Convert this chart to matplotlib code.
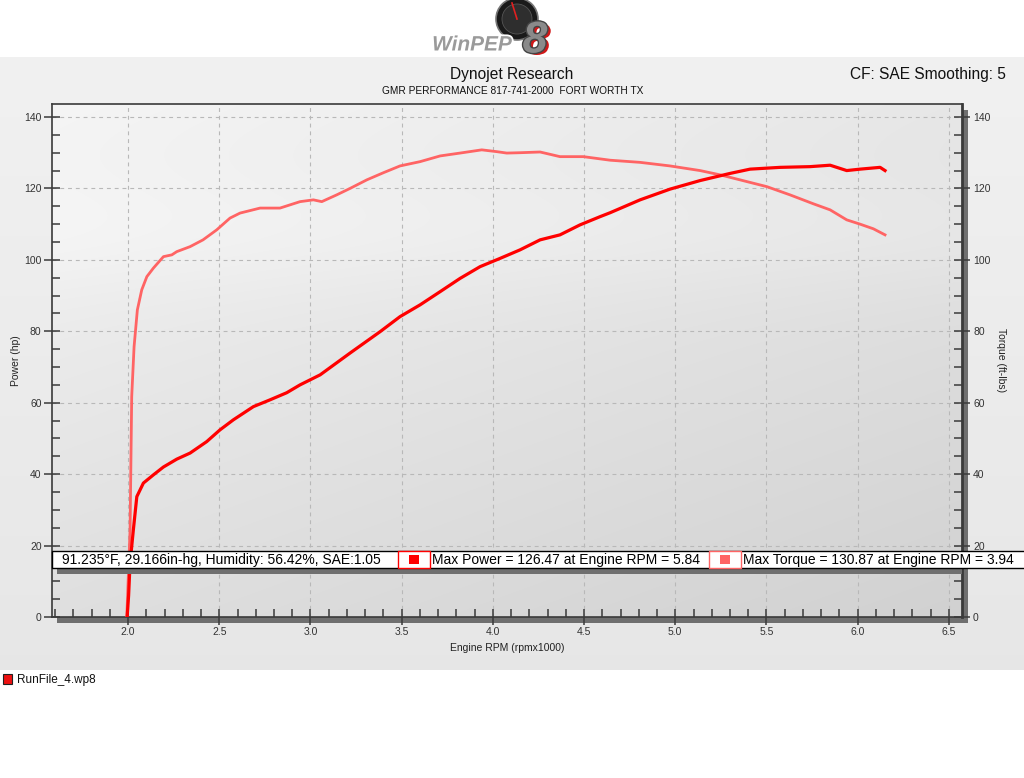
import numpy as np
import matplotlib
matplotlib.use("Agg")
import matplotlib.pyplot as plt
from matplotlib.patches import Rectangle, Circle
import matplotlib.patheffects as pe
from matplotlib.ticker import MultipleLocator

plt.rcParams['font.family'] = ['Liberation Sans', 'DejaVu Sans']

# ---------------- data ----------------
power_rpm = [1.995, 2.003, 2.011, 2.029, 2.048, 2.084, 2.139, 2.194, 2.267, 2.340,
             2.431, 2.504, 2.577, 2.687, 2.778, 2.870, 2.943, 3.053, 3.217, 3.382,
             3.491, 3.601, 3.711, 3.820, 3.930, 4.039, 4.149, 4.259, 4.368, 4.478,
             4.588, 4.643, 4.807, 4.971, 5.136, 5.300, 5.410, 5.575, 5.739, 5.849,
             5.940, 6.013, 6.123, 6.150]
power_hp = [0, 6.0, 15.1, 24.4, 33.7, 37.5, 39.8, 42.0, 44.2, 45.9,
            49.1, 52.4, 55.2, 58.9, 60.8, 62.8, 65.0, 67.8, 73.9, 79.9,
            84.1, 87.4, 91.1, 94.8, 98.1, 100.4, 102.8, 105.6, 107.0, 109.8,
            112.1, 113.2, 116.8, 119.8, 122.2, 124.2, 125.4, 125.9, 126.1, 126.5,
            125.0, 125.4, 125.9, 125.0]

torque_rpm = [1.993, 2.011, 2.020, 2.033, 2.051, 2.075, 2.103, 2.139, 2.194, 2.240,
              2.267, 2.340, 2.411, 2.486, 2.559, 2.614, 2.724, 2.833, 2.943, 3.016,
              3.062, 3.144, 3.217, 3.309, 3.400, 3.491, 3.601, 3.711, 3.820, 3.939,
              4.021, 4.076, 4.149, 4.259, 4.368, 4.496, 4.643, 4.807, 4.971, 5.136,
              5.246, 5.355, 5.502, 5.629, 5.757, 5.849, 5.940, 6.013, 6.086, 6.150]
torque_ftlb = [0, 24.4, 61.7, 75.7, 86.0, 91.6, 95.3, 97.7, 100.9, 101.4,
               102.3, 103.7, 105.6, 108.4, 111.7, 113.1, 114.5, 114.5, 116.3, 116.8,
               116.3, 118.2, 120.0, 122.4, 124.4, 126.3, 127.5, 129.1, 129.9, 130.8,
               130.3, 129.9, 130.0, 130.2, 128.9, 128.9, 127.9, 127.3, 126.3, 125.0,
               123.8, 122.4, 120.5, 118.2, 115.7, 114.0, 111.2, 110.0, 108.7, 107.0]

x_ticks = [2.0, 2.5, 3.0, 3.5, 4.0, 4.5, 5.0, 5.5, 6.0, 6.5]
y_ticks = [0, 20, 40, 60, 80, 100, 120, 140]

title = "Dynojet Research"
subtitle = "GMR PERFORMANCE 817-741-2000  FORT WORTH TX"
cf_text = "CF: SAE Smoothing: 5"
weather_text = "91.235°F, 29.166in-hg, Humidity: 56.42%, SAE:1.05"
max_power_text = "Max Power = 126.47 at Engine RPM = 5.84"
max_torque_text = "Max Torque = 130.87 at Engine RPM = 3.94"
run_file = "RunFile_4.wp8"

POWER_COLOR = "#ff0000"
TORQUE_COLOR = "#ff6464"

W, H = 1024, 778
fig = plt.figure(figsize=(W / 100, H / 100), dpi=100)
fig.patch.set_facecolor("white")

# ---------------- background (pixel coords) ----------------
bg = fig.add_axes([0, 0, 1, 1], zorder=-10)
bg.set_xlim(0, W)
bg.set_ylim(H, 0)
bg.axis("off")
grad = np.linspace(0.945, 0.905, 256).reshape(-1, 1)
bg.imshow(np.dstack([grad, grad, grad]), extent=[0, W, 670, 57], aspect="auto",
          interpolation="bilinear", zorder=0)
# frame shadows
bg.add_patch(Rectangle((57, 617), 911, 6, facecolor="#6f6f6f", edgecolor="none", zorder=2))
bg.add_patch(Rectangle((962, 110), 6, 513, facecolor="#6f6f6f", edgecolor="none", zorder=2))

# ---------------- main axes ----------------
L, R, T, B = 52, 962, 104, 617
ax = fig.add_axes([L / W, 1 - B / H, (R - L) / W, (B - T) / H], zorder=1)
ax.set_xlim(1.583, 6.572)
ax.set_ylim(0, 143.64)

# plot-area gradient
nx, ny = 200, 200
gx = np.linspace(0, 1, nx)[None, :]
gy = np.linspace(0, 1, ny)[:, None]  # 0 at top
val = 0.96 - 0.055 * gx - 0.085 * gy
val = val + 0.02 * np.exp(-((gy - 0.25) / 0.12) ** 2)
ax.imshow(np.dstack([val, val, val]), extent=[0, 1, 0, 1], transform=ax.transAxes,
          aspect="auto", interpolation="bilinear", zorder=0)

ax.grid(True, which="major", color="#b8b8b8", linestyle=(0, (3.5, 3.5)), linewidth=0.8, zorder=1)

ax.plot(torque_rpm, torque_ftlb, color=TORQUE_COLOR, linewidth=2.0, zorder=3,
        solid_joinstyle="round")
ax.plot(power_rpm, power_hp, color=POWER_COLOR, linewidth=2.3, zorder=4,
        solid_joinstyle="round")

ax.xaxis.set_major_locator(plt.FixedLocator(x_ticks))
ax.xaxis.set_minor_locator(MultipleLocator(0.1))
ax.yaxis.set_major_locator(plt.FixedLocator(y_ticks))
ax.yaxis.set_minor_locator(MultipleLocator(5))
ax.set_xticklabels([f"{v:.1f}" for v in x_ticks])
ax.set_yticklabels([str(v) for v in y_ticks])

tick_color = "#3a3a3a"
ax.tick_params(axis="both", which="major", direction="inout", length=11, width=1.1,
               color=tick_color, labelsize=7.5, labelcolor="#333333", pad=2)
ax.tick_params(axis="both", which="minor", direction="in", length=5.5, width=1.1,
               color=tick_color)

for s in ["left", "bottom", "top"]:
    ax.spines[s].set_color("#3a3a3a")
    ax.spines[s].set_linewidth(1.2)
ax.spines["right"].set_color("#3a3a3a")
ax.spines["right"].set_linewidth(2.0)

ax.set_xlabel("Engine RPM (rpmx1000)", fontsize=7.5, color="#222222", labelpad=4)
ax.set_ylabel("Power (hp)", fontsize=7.5, color="#222222", labelpad=2)

ax2 = ax.twinx()
ax2.set_ylim(ax.get_ylim())
ax2.yaxis.set_major_locator(plt.FixedLocator(y_ticks))
ax2.yaxis.set_minor_locator(MultipleLocator(5))
ax2.set_yticklabels([str(v) for v in y_ticks])
ax2.tick_params(axis="y", which="major", direction="inout", length=12, width=1.1,
                color=tick_color, labelsize=7.5, labelcolor="#333333", pad=2)
ax2.tick_params(axis="y", which="minor", direction="in", length=5.5, width=1.1,
                color=tick_color)
for s in ax2.spines.values():
    s.set_visible(False)
ax2.set_ylabel("Torque (ft-lbs)", fontsize=7.5, color="#222222", rotation=-90,
               labelpad=11)

# ---------------- overlay (pixel coords) ----------------
ov = fig.add_axes([0, 0, 1, 1], zorder=5)
ov.set_xlim(0, W)
ov.set_ylim(H, 0)
ov.axis("off")
ov.patch.set_alpha(0)

# info box
ov.add_patch(Rectangle((57, 568), 905, 6, facecolor="#6f6f6f", edgecolor="none", zorder=1))
ov.add_patch(Rectangle((52, 551), 990, 17, facecolor="white", edgecolor="black",
                       linewidth=1.0, zorder=2))
ov.text(62, 560, weather_text, fontsize=10, va="center", ha="left", color="black", zorder=3)
ov.add_patch(Rectangle((398, 551), 32, 17, facecolor="white", edgecolor=POWER_COLOR,
                       linewidth=1.0, zorder=3))
ov.add_patch(Rectangle((409, 555), 10, 9, facecolor=POWER_COLOR, edgecolor="none", zorder=4))
ov.text(432, 560, max_power_text, fontsize=10, va="center", ha="left", color="black", zorder=3)
ov.add_patch(Rectangle((709, 551), 32, 17, facecolor="white", edgecolor=TORQUE_COLOR,
                       linewidth=1.0, zorder=3))
ov.add_patch(Rectangle((720, 555), 10, 9, facecolor=TORQUE_COLOR, edgecolor="none", zorder=4))
ov.text(743, 560, max_torque_text, fontsize=10, va="center", ha="left", color="black", zorder=3)

# titles
ov.text(512, 74, title, fontsize=11.2, ha="center", va="center", color="#111111")
ov.text(513, 91, subtitle, fontsize=7.3, ha="center", va="center", color="#111111")
ov.text(1006, 74, cf_text, fontsize=11.2, ha="right", va="center", color="#111111")

# logo
ov.add_patch(Circle((517, 19), 21, facecolor="#1a1a1a", edgecolor="#777777", linewidth=1.2, zorder=2))
ov.add_patch(Circle((517, 19), 15, facecolor="#2e2e2e", edgecolor="#555555", linewidth=0.6, zorder=2))
ov.plot([517, 512], [19, 3], color="#e02020", linewidth=1.2, zorder=3)
ov.text(472, 45, "WinPEP", fontsize=15, fontstyle="italic", fontweight="bold",
        ha="center", va="center", color="#9a9a9a", zorder=4,
        path_effects=[pe.withStroke(linewidth=2.5, foreground="white")])
ov.text(535, 41, "8", fontsize=32, fontstyle="italic", fontweight="bold",
        ha="center", va="center", color="#8a8a8a", zorder=4,
        path_effects=[pe.withSimplePatchShadow(offset=(2.5, -1.5), shadow_rgbFace="#d01818", alpha=1.0),
                      pe.withStroke(linewidth=2, foreground="#444444")])

# run file legend
ov.add_patch(Rectangle((3, 674), 9, 10, facecolor="#ee1111", edgecolor="#222222",
                       linewidth=0.8, zorder=2))
ov.text(17, 680, run_file, fontsize=8.5, ha="left", va="center", color="#111111")

fig.savefig("out.png", dpi=100, facecolor="white")
